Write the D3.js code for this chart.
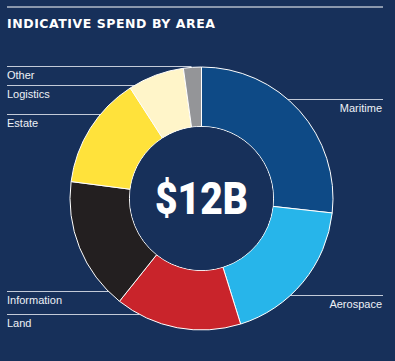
<!DOCTYPE html>
<html>
<head>
<meta charset="utf-8">
<script src="https://cdn.jsdelivr.net/npm/d3@7"></script>
<style>
  html, body { margin: 0; padding: 0; background: #17305a; }
  svg { display: block; }
</style>
</head>
<body>
<svg id="chart"></svg>
<script>
// chart data (share of spend, %)
var areas = ['Maritime', 'Aerospace', 'Land', 'Information', 'Estate', 'Logistics', 'Other']
var shares = [26.7, 18.4, 15.5, 16.3, 13.8, 6.9, 2.2]
var colors = ['#0e4a86', '#27b5ea', '#c9242b', '#231f20', '#ffe23b', '#fff5c9', '#949598']
var total = '$12B'
var title = 'INDICATIVE SPEND BY AREA'

var width = 395
var height = 361
var cx = 201.5, cy = 198.5
var outerR = 131.5, innerR = 72
var lineColor = '#c3cad8'
var textColor = '#eef1f6'

// where each label sits: side + y of leader line
var labelLayout = {
  Maritime:    { side: 'right', y: 99.5 },
  Aerospace:   { side: 'right', y: 295.5 },
  Land:        { side: 'left',  y: 314.5 },
  Information: { side: 'left',  y: 291.5 },
  Estate:      { side: 'left',  y: 114.5 },
  Logistics:   { side: 'left',  y: 85.5 },
  Other:       { side: 'left',  y: 66.5 }
}

var svg = d3.select('#chart').attr('width', width).attr('height', height)

svg.append('rect').attr('width', width).attr('height', height).attr('fill', '#17305a')

// header rule + title
svg.append('line')
  .attr('x1', 7).attr('x2', 383).attr('y1', 7).attr('y2', 7)
  .attr('stroke', '#ffffff').attr('stroke-width', 1)

svg.append('text')
  .attr('x', 7).attr('y', 27.5)
  .attr('fill', '#ffffff')
  .attr('font-family', '"DejaVu Sans", sans-serif')
  .attr('font-weight', 700)
  .attr('font-size', 12.5)
  .attr('textLength', 208)
  .attr('lengthAdjust', 'spacing')
  .text(title)

var pie = d3.pie().sort(null).value(function (d) { return d })
var arcs = pie(shares)
var arc = d3.arc().innerRadius(innerR).outerRadius(outerR)

// leader lines + labels
var labels = svg.append('g')
areas.forEach(function (name) {
  var l = labelLayout[name]
  var dy = l.y - cy
  var dx = Math.sqrt(Math.max(0, outerR * outerR - dy * dy))
  if (name === 'Other') dx = 10
  var x1, x2
  if (l.side === 'right') { x1 = cx + dx; x2 = 383 } else { x1 = 7; x2 = cx - dx }
  labels.append('line')
    .attr('x1', x1).attr('x2', x2).attr('y1', l.y).attr('y2', l.y)
    .attr('stroke', lineColor).attr('stroke-width', 1)
  labels.append('text')
    .attr('x', l.side === 'right' ? 382 : 7)
    .attr('y', l.y + 12)
    .attr('text-anchor', l.side === 'right' ? 'end' : 'start')
    .attr('fill', textColor)
    .attr('font-family', '"Liberation Sans", Arial, sans-serif')
    .attr('font-size', 11)
    .text(name)
})

var g = svg.append('g').attr('transform', 'translate(' + cx + ',' + cy + ')')

g.selectAll('path')
  .data(arcs)
  .enter()
  .append('path')
  .attr('d', arc)
  .attr('fill', function (d, i) { return colors[i] })
  .attr('stroke', '#ffffff')
  .attr('stroke-width', 1)

g.append('circle').attr('r', innerR - 0.5).attr('fill', '#17305a')

g.append('text')
  .attr('x', 0).attr('y', 15)
  .attr('text-anchor', 'middle')
  .attr('fill', '#ffffff')
  .attr('font-family', 'Roboto, "Liberation Sans", sans-serif')
  .attr('font-weight', 900)
  .attr('font-size', 44)
  .attr('textLength', 93)
  .attr('lengthAdjust', 'spacingAndGlyphs')
  .text(total)
</script>
</body>
</html>
